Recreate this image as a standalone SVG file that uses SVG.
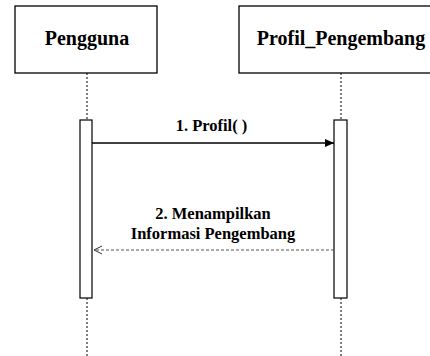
<svg xmlns="http://www.w3.org/2000/svg" width="430" height="356" viewBox="0 0 430 356">
<style>
.box{fill:#fff;stroke:#000;stroke-width:1.3}
.act{fill:#fff;stroke:#000;stroke-width:1.2}
.life{stroke:#000;stroke-width:1;stroke-dasharray:2,2;fill:none}
.t{font-family:"Liberation Serif","Times New Roman",serif;font-weight:bold;fill:#000;text-anchor:middle}
.msg{stroke:#000;stroke-width:1.3;fill:none}
.ret{stroke:#555;stroke-width:1;stroke-dasharray:3,2;fill:none}
</style>
<defs>
<marker id="fill" markerWidth="10" markerHeight="8" refX="9" refY="4" orient="auto" markerUnits="userSpaceOnUse"><path d="M0,0 L9,4 L0,8 Z" fill="#000"/></marker>
<marker id="open" markerWidth="10" markerHeight="10" refX="9" refY="5" orient="auto" markerUnits="userSpaceOnUse"><path d="M1,1 L9,5 L1,9" fill="none" stroke="#333" stroke-width="1"/></marker>
</defs>
<g id="connectors">
<line class="life" x1="87" y1="73" x2="87" y2="120"/>
<line class="life" x1="87" y1="298" x2="87" y2="356"/>
<line class="life" x1="341" y1="73" x2="341" y2="120"/>
<line class="life" x1="341" y1="298" x2="341" y2="356"/>
</g>
<g id="pengguna">
<rect class="box" x="15" y="6" width="142" height="67"/>
<text class="t" x="87" y="45" font-size="20">Pengguna</text>
<rect class="act" x="80" y="120" width="12" height="178"/>
</g>
<g id="profil_pengembang">
<rect class="box" x="239" y="6" width="204" height="67"/>
<text class="t" x="341" y="45" font-size="20">Profil_Pengembang</text>
<rect class="act" x="334" y="120" width="13" height="178"/>
</g>
<g id="messages">
<line class="msg" x1="92" y1="143" x2="334" y2="143" marker-end="url(#fill)"/>
<text class="t" x="211.5" y="131" font-size="16.5">1. Profil( )</text>
<line class="ret" x1="334" y1="250" x2="94" y2="250" marker-end="url(#open)"/>
<text class="t" x="213" y="219" font-size="16.5">2. Menampilkan</text>
<text class="t" x="213" y="239" font-size="16.5">Informasi Pengembang</text>
</g>
</svg>
